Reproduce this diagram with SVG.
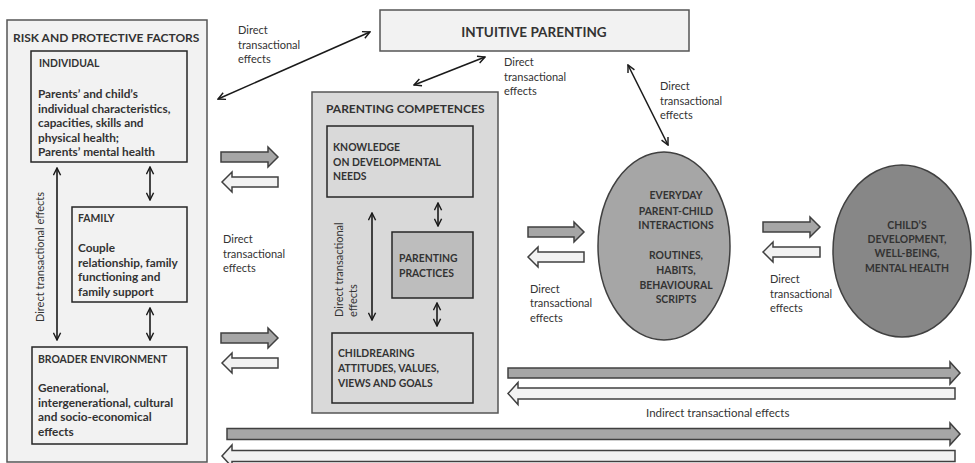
<svg xmlns="http://www.w3.org/2000/svg" width="975" height="463" viewBox="0 0 975 463">
<style>
text{font-family:Lato,"Open Sans","Liberation Sans",sans-serif;fill:#333}
.b{font-weight:bold;font-size:11.8px}
.u{font-weight:bold;font-size:10.4px}
.t{font-weight:bold;font-size:12px}
.l{font-size:11px;fill:#3a3a3a}
.c{text-anchor:middle}
.box{stroke:#262626;stroke-width:1.5}
.outer{stroke:#555;stroke-width:1.5}
.light{fill:#f2f2f2}
.mid{fill:#d9d9d9}
.dark{fill:#bdbdbd}
.ln{stroke:#1a1a1a;stroke-width:1.6;fill:none;marker-start:url(#v);marker-end:url(#v)}
.ga{fill:#a6a6a6;stroke:#404040;stroke-width:1.5}
.wa{fill:#f2f2f2;stroke:#404040;stroke-width:1.5}
</style>
<defs>
<marker id="v" viewBox="0 0 10 10" refX="9" refY="5" markerWidth="9" markerHeight="9" markerUnits="userSpaceOnUse" orient="auto-start-reverse">
<path d="M1,1 L9,5 L1,9" fill="none" stroke="#1a1a1a" stroke-width="1.6"/>
</marker>
</defs>
<rect width="975" height="463" fill="#fff"/>

<g id="risk-protective-factors">
<rect class="outer light" x="7" y="20" width="200" height="442"/>
<text class="t" x="13" y="42">RISK AND PROTECTIVE FACTORS</text>
</g>
<g id="individual">
<rect class="box light" x="31" y="51" width="156" height="111"/>
<text class="u" x="39" y="67">INDIVIDUAL</text>
<text class="b" x="38" y="98">Parents’ and child’s</text>
<text class="b" x="38" y="112.5">individual characteristics,</text>
<text class="b" x="38" y="127">capacities, skills and</text>
<text class="b" x="38" y="141.5">physical health;</text>
<text class="b" x="38" y="156">Parents’ mental health</text>
</g>
<g id="family">
<rect class="box light" x="72" y="207" width="115" height="95"/>
<text class="u" x="78" y="222">FAMILY</text>
<text class="b" x="78" y="252">Couple</text>
<text class="b" x="78" y="266.5">relationship, family</text>
<text class="b" x="78" y="281">functioning and</text>
<text class="b" x="78" y="295.5">family support</text>
</g>
<g id="broader-environment">
<rect class="box light" x="32" y="347" width="155" height="97"/>
<text class="u" x="38" y="363">BROADER ENVIRONMENT</text>
<text class="b" x="38" y="392">Generational,</text>
<text class="b" x="38" y="406.5">intergenerational, cultural</text>
<text class="b" x="38" y="421">and socio-economical</text>
<text class="b" x="38" y="435.5">effects</text>
</g>
<g id="intuitive-parenting">
<rect class="outer light" x="380" y="10" width="309" height="41"/>
<text class="t c" x="534" y="37" style="font-size:13.5px">INTUITIVE PARENTING</text>
</g>
<g id="parenting-competences">
<rect class="outer mid" x="312" y="92" width="186" height="321"/>
<text class="t" x="326" y="113">PARENTING COMPETENCES</text>
</g>
<g id="knowledge">
<rect class="box mid" x="327" y="126" width="146" height="71"/>
<text class="u" x="333" y="151">KNOWLEDGE</text>
<text class="u" x="333" y="165.5">ON DEVELOPMENTAL</text>
<text class="u" x="333" y="180">NEEDS</text>
</g>
<g id="parenting-practices">
<rect class="box dark" x="392" y="232" width="81" height="66"/>
<text class="u" x="399" y="262">PARENTING</text>
<text class="u" x="399" y="277">PRACTICES</text>
</g>
<g id="childrearing">
<rect class="box mid" x="332" y="333" width="141" height="70"/>
<text class="u" x="338" y="357">CHILDREARING</text>
<text class="u" x="338" y="372">ATTITUDES, VALUES,</text>
<text class="u" x="338" y="387">VIEWS AND GOALS</text>
</g>
<g id="everyday-interactions">
<ellipse cx="664" cy="246" rx="66" ry="94" fill="#a6a6a6" stroke="#404040" stroke-width="1.5"/>
<text class="u c" x="676" y="199">EVERYDAY</text>
<text class="u c" x="676" y="215">PARENT-CHILD</text>
<text class="u c" x="676" y="229">INTERACTIONS</text>
<text class="u c" x="676" y="259">ROUTINES,</text>
<text class="u c" x="676" y="274">HABITS,</text>
<text class="u c" x="676" y="289">BEHAVIOURAL</text>
<text class="u c" x="676" y="303">SCRIPTS</text>
</g>
<g id="child-development">
<ellipse cx="902" cy="251" rx="69" ry="86" fill="#878787" stroke="#404040" stroke-width="1.5"/>
<text class="u c" x="907" y="229">CHILD’S</text>
<text class="u c" x="907" y="243">DEVELOPMENT,</text>
<text class="u c" x="907" y="257">WELL-BEING,</text>
<text class="u c" x="907" y="272">MENTAL HEALTH</text>
</g>

<g id="connectors">
<line class="ln" x1="218" y1="99" x2="370" y2="32"/>
<line class="ln" x1="414" y1="85" x2="485" y2="57"/>
<line class="ln" x1="628" y1="65" x2="668" y2="145"/>
<line class="ln" x1="57" y1="168" x2="57" y2="340"/>
<line class="ln" x1="150" y1="167" x2="150" y2="200"/>
<line class="ln" x1="150" y1="308" x2="150" y2="340"/>
<line class="ln" x1="438" y1="203" x2="438" y2="226"/>
<line class="ln" x1="437" y1="303" x2="437" y2="326"/>
<line class="ln" x1="372" y1="213" x2="372" y2="320"/>
<path class="ga" d="M221,152 H268 V147 L278,157 L268,167 V162 H221 Z"/>
<path class="wa" d="M278,177 H232 V172 L222,182 L232,192 V187 H278 Z"/>
<path class="ga" d="M221,333 H268 V328 L278,338 L268,348 V343 H221 Z"/>
<path class="wa" d="M278,358 H232 V353 L222,363 L232,373 V368 H278 Z"/>
<path class="ga" d="M528,227 H574 V222 L584,232 L574,242 V237 H528 Z"/>
<path class="wa" d="M584,252 H538 V247 L528,257 L538,267 V262 H584 Z"/>
<path class="ga" d="M763,222 H810 V217 L820,227 L810,237 V232 H763 Z"/>
<path class="wa" d="M820,247 H773 V242 L763,252 L773,262 V257 H820 Z"/>
<path class="ga" d="M508,368 H950 V362 L960,373 L950,384 V378 H508 Z"/>
<path class="wa" d="M955,388 H518 V382.5 L508,393.5 L518,404.5 V399 H955 Z"/>
<path class="ga" d="M227,428.5 H950 V423 L960,434 L950,445 V439.5 H227 Z"/>
<path class="wa" d="M955,450.5 H232 V445 L222,456 L232,467 V461.5 H955 Z"/>
<g class="l">
<text x="238" y="34">Direct</text>
<text x="238" y="48.5">transactional</text>
<text x="238" y="63">effects</text>
<text x="504" y="66">Direct</text>
<text x="504" y="80.5">transactional</text>
<text x="504" y="95">effects</text>
<text x="660" y="90">Direct</text>
<text x="660" y="104.5">transactional</text>
<text x="660" y="119">effects</text>
<text x="223" y="243">Direct</text>
<text x="223" y="257.5">transactional</text>
<text x="223" y="272">effects</text>
<text x="530" y="292.5">Direct</text>
<text x="530" y="307">transactional</text>
<text x="530" y="321.5">effects</text>
<text x="770" y="283">Direct</text>
<text x="770" y="297.5">transactional</text>
<text x="770" y="312">effects</text>
<text class="c" transform="translate(44,257) rotate(-90)">Direct transactional  effects</text>
<text transform="translate(343,317) rotate(-90)">Direct transactional</text>
<text transform="translate(357,317) rotate(-90)">effects</text>
<text x="646" y="417" style="font-size:11.5px">Indirect transactional  effects</text>
</g>
</g>
</svg>
